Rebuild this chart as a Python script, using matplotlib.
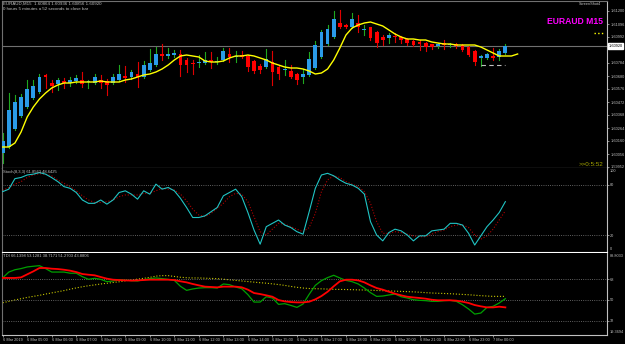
import matplotlib.pyplot as plt
from matplotlib.transforms import blended_transform_factory

plt.rcParams['font.family'] = ['Liberation Sans', 'DejaVu Sans']

# EURAUD M15 candles, one per bar (bar 0 = 6 Mar 04:00)
opens = [1.60064, 1.60112, 1.60256, 1.60360, 1.60432, 1.60504, 1.60552, 1.60688, 1.60624, 1.60616,
         1.60640, 1.60624, 1.60640, 1.60648, 1.60632, 1.60624, 1.60648, 1.60640, 1.60624, 1.60648,
         1.60680, 1.60672, 1.60696, 1.60672, 1.60728, 1.60768, 1.60856, 1.60840, 1.60848, 1.60856,
         1.60808, 1.60784, 1.60784, 1.60784, 1.60808, 1.60792, 1.60808, 1.60856, 1.60832, 1.60848,
         1.60840, 1.60800, 1.60760, 1.60752, 1.60792, 1.60752, 1.60728, 1.60720, 1.60696, 1.60672,
         1.60688, 1.60744, 1.60832, 1.60936, 1.60992, 1.61104, 1.61088, 1.61072, 1.61104, 1.61048,
         1.61072, 1.61032, 1.60992, 1.60984, 1.61000, 1.60992, 1.60976, 1.60960, 1.60952, 1.60944,
         1.60936, 1.60920, 1.60944, 1.60928, 1.60936, 1.60928, 1.60912, 1.60880, 1.60824, 1.60824,
         1.60840, 1.60832, 1.60864]
highs = [1.60224, 1.60544, 1.60528, 1.60536, 1.60648, 1.60648, 1.60696, 1.60696, 1.60648, 1.60664,
         1.60664, 1.60672, 1.60688, 1.60712, 1.60648, 1.60696, 1.60688, 1.60656, 1.60696, 1.60768,
         1.60760, 1.60728, 1.60792, 1.60800, 1.60896, 1.60912, 1.60936, 1.60904, 1.60888, 1.60888,
         1.60824, 1.60808, 1.60848, 1.60872, 1.60872, 1.60832, 1.60904, 1.60904, 1.60880, 1.60880,
         1.60848, 1.60808, 1.60776, 1.60896, 1.60880, 1.60768, 1.60808, 1.60768, 1.60704, 1.60736,
         1.60872, 1.60960, 1.61048, 1.61088, 1.61200, 1.61208, 1.61096, 1.61184, 1.61168, 1.61088,
         1.61072, 1.61040, 1.61008, 1.61024, 1.61024, 1.61000, 1.60984, 1.60968, 1.60968, 1.60952,
         1.60936, 1.60944, 1.60968, 1.60944, 1.60944, 1.60936, 1.60920, 1.60888, 1.60848, 1.60864,
         1.60904, 1.60896, 1.60936]
lows = [1.59984, 1.60104, 1.60248, 1.60352, 1.60424, 1.60496, 1.60544, 1.60584, 1.60552, 1.60568,
        1.60584, 1.60600, 1.60624, 1.60592, 1.60584, 1.60616, 1.60584, 1.60528, 1.60616, 1.60640,
        1.60632, 1.60656, 1.60592, 1.60664, 1.60720, 1.60760, 1.60808, 1.60824, 1.60832, 1.60680,
        1.60712, 1.60696, 1.60752, 1.60776, 1.60744, 1.60776, 1.60800, 1.60792, 1.60792, 1.60824,
        1.60720, 1.60704, 1.60704, 1.60744, 1.60608, 1.60656, 1.60688, 1.60664, 1.60616, 1.60624,
        1.60680, 1.60736, 1.60824, 1.60928, 1.60984, 1.61064, 1.61064, 1.61064, 1.61032, 1.61008,
        1.60968, 1.60912, 1.60928, 1.60944, 1.60952, 1.60944, 1.60928, 1.60920, 1.60888, 1.60880,
        1.60896, 1.60904, 1.60896, 1.60912, 1.60904, 1.60880, 1.60840, 1.60768, 1.60760, 1.60816,
        1.60808, 1.60808, 1.60856]
closes = [1.60160, 1.60408, 1.60472, 1.60512, 1.60576, 1.60600, 1.60672, 1.60672, 1.60600, 1.60648,
          1.60624, 1.60648, 1.60664, 1.60616, 1.60640, 1.60672, 1.60624, 1.60608, 1.60672, 1.60696,
          1.60664, 1.60712, 1.60672, 1.60768, 1.60784, 1.60856, 1.60840, 1.60856, 1.60864, 1.60768,
          1.60768, 1.60776, 1.60792, 1.60808, 1.60792, 1.60800, 1.60880, 1.60832, 1.60840, 1.60832,
          1.60752, 1.60720, 1.60728, 1.60816, 1.60712, 1.60696, 1.60736, 1.60672, 1.60648, 1.60696,
          1.60816, 1.60928, 1.61032, 1.61056, 1.61136, 1.61072, 1.61072, 1.61136, 1.61072, 1.61056,
          1.60984, 1.60944, 1.60968, 1.61008, 1.60992, 1.60968, 1.60944, 1.60928, 1.60936, 1.60912,
          1.60912, 1.60936, 1.60928, 1.60936, 1.60920, 1.60888, 1.60848, 1.60792, 1.60840, 1.60856,
          1.60824, 1.60880, 1.60920]

# shifted moving average (runs 2 bars past the last candle)
ma_values = [1.60112, 1.60112, 1.60144, 1.60232, 1.60352, 1.60432, 1.60496, 1.60544, 1.60584, 1.60608,
             1.60624, 1.60624, 1.60632, 1.60632, 1.60632, 1.60632, 1.60640, 1.60632, 1.60632, 1.60632,
             1.60648, 1.60656, 1.60672, 1.60688, 1.60696, 1.60712, 1.60736, 1.60768, 1.60808, 1.60840,
             1.60848, 1.60840, 1.60832, 1.60800, 1.60792, 1.60792, 1.60800, 1.60824, 1.60840, 1.60840,
             1.60848, 1.60840, 1.60824, 1.60808, 1.60784, 1.60768, 1.60752, 1.60744, 1.60744, 1.60736,
             1.60720, 1.60696, 1.60704, 1.60736, 1.60808, 1.60904, 1.61008, 1.61064, 1.61088, 1.61104,
             1.61112, 1.61096, 1.61080, 1.61048, 1.61016, 1.60992, 1.60976, 1.60976, 1.60968, 1.60968,
             1.60952, 1.60944, 1.60936, 1.60936, 1.60928, 1.60928, 1.60928, 1.60928, 1.60912, 1.60888,
             1.60864, 1.60840, 1.60840, 1.60840, 1.60856]

stoch_main = [72, 75, 87.6, 89, 92, 93, 94.8, 93, 88.8, 84,
              78, 76, 71, 62, 58, 58, 62, 57, 62, 71,
              73, 69, 63, 73, 69, 81, 75, 77, 73, 64,
              53, 41, 41, 43, 48, 53, 67, 71, 75, 66,
              47, 26, 9, 30, 34, 38, 32, 29, 24, 21,
              48, 76, 92, 94, 91, 86, 82, 80, 76, 69,
              36, 20, 13, 23, 27, 25, 20, 13, 19, 19,
              25, 26, 27, 34, 34, 32, 22, 8, 19, 30,
              38, 47, 60]
stoch_signal = [73.5, 77, 81, 84, 89, 92, 93.6, 93, 91, 86,
                82, 78, 73, 67, 62, 59, 59, 60, 62, 66,
                68, 68, 68, 70, 70, 73, 76, 75, 74, 69,
                61, 51, 44, 42, 46, 52, 58, 66, 70, 69,
                60, 42, 24, 20, 27, 34, 33, 30, 27, 24,
                29, 46, 72, 86, 91, 89, 84, 81, 78, 72,
                58, 36, 22, 22, 24, 23, 21, 19, 18, 18,
                21, 24, 26, 30, 32, 32, 29, 20, 15, 19,
                27, 38, 49]

tdi_rsi = [69, 74, 76, 77, 78.4, 79, 79.5, 77, 74, 74,
           74, 73, 73, 70, 67.7, 68.6, 67.7, 65.7, 66.3, 67.4,
           67, 66.6, 66.3, 67.4, 68.3, 68.9, 68.3, 67.7, 66.8, 61.7,
           58.2, 59.4, 60.2, 60.5, 60.5, 60.2, 63.7, 63.1, 61.1, 59.6,
           54.5, 48.1, 48.1, 52.7, 51.6, 46.1, 46.7, 45.2, 43.5, 46.4,
           54.8, 62.5, 66.6, 69.2, 71.2, 68.9, 66.8, 65.7, 63.7, 60.2,
           56.2, 53, 53.3, 54.2, 55, 52.7, 51.6, 50.1, 49.6, 49.3,
           48.7, 48.7, 49.3, 49.6, 48.7, 45.8, 42.1, 37.7, 38.6, 43.5,
           44.4, 47.3, 51]
tdi_signal = [68.9, 68.9, 68.9, 69.4, 72, 74.6, 77.5, 77.5, 76.9, 76.6,
              76, 75.2, 74, 72.3, 71.7, 71.2, 69.7, 68.3, 67.4, 67.1,
              66.8, 66.6, 66.8, 67.1, 67.4, 67.4, 67.4, 67.4, 67.1, 66,
              65.1, 63.7, 62.5, 61.4, 61.1, 60.8, 61.4, 61.4, 61.4, 60.8,
              58.8, 55.9, 55, 53.9, 52.7, 49.8, 48.7, 48.1, 47.8, 47.8,
              48.4, 50.4, 53.3, 57, 61.7, 66, 67.4, 67.4, 66.8, 65.1,
              62.5, 60.2, 58.8, 57, 55.3, 53.9, 52.7, 52.1, 51.6, 51,
              50.1, 49.6, 49.6, 49.6, 49.3, 48.4, 47.3, 45.5, 44.4, 43.5,
              43.5, 44.1, 43.5]
tdi_base = [47.5, 48.7, 49.9, 51, 52.1, 53, 53.9, 55, 56, 57,
            58, 59.2, 60.3, 61.3, 62.2, 62.9, 63.7, 64.3, 65, 65.6,
            66.4, 67.2, 67.9, 68.6, 69.4, 70.5, 70.9, 70.9, 70.2, 69.5,
            69.1, 68.9, 68.9, 68.7, 68.5, 68.3, 67.8, 67.3, 66.8, 66.3,
            65.8, 65.3, 64.8, 64.4, 63.8, 63.2, 62.5, 61.6, 60.8, 60.2,
            59.8, 59.6, 59.5, 59.3, 59.1, 59, 58.9, 58.8, 58.6, 58.5,
            58.3, 58.1, 57.9, 57.7, 57.5, 57.3, 57.1, 56.9, 56.6, 56.2,
            55.9, 55.7, 55.5, 55.3, 55, 54.7, 54.4, 54, 53.6, 53.3,
            53, 53, 53]

price_ticks = [1.61200, 1.61096, 1.60992, 1.60784, 1.60680, 1.60576, 1.60472,
               1.60368, 1.60264, 1.60160, 1.60056, 1.59952]
low_level = 1.60768
low_level_bars = [78, 82]
time_labels = ["6 Mar 2019"] + ["6 Mar %02d:00" % h for h in range(5, 24)] + ["7 Mar 00:00"]

W, H = 625, 344
fig = plt.figure(figsize=(W / 100, H / 100), dpi=100, facecolor='black')


def box(x0, y0, x1, y1):
    return [x0 / W, 1 - y1 / H, (x1 - x0) / W, (y1 - y0) / H]


def px_text(x, y, s, **kw):
    fig.text(x / W, 1 - y / H, s, va='center', **kw)


ax_main = fig.add_axes(box(2, 1, 607, 168))
ax_st = fig.add_axes(box(2, 168.3, 607, 251.7))
ax_tdi = fig.add_axes(box(2, 253, 607, 335))

grey = '#c0c0c0'
small = 2.8
for ax in (ax_main, ax_st, ax_tdi):
    ax.set_facecolor('black')
    ax.set_xlim(-0.11, 98.58)
    for side in ('left', 'top', 'bottom', 'right'):
        ax.spines[side].set_color('#707070')
        ax.spines[side].set_linewidth(0.8)
    ax.spines['right'].set_color(grey)
    ax.yaxis.tick_right()
    ax.tick_params(axis='y', colors=grey, labelsize=small, length=1.5, width=0.5, pad=0.8)
    ax.tick_params(axis='x', bottom=False, labelbottom=False)
ax_main.spines['bottom'].set_color('white')
ax_st.spines['top'].set_visible(False)
ax_st.spines['bottom'].set_color('white')
ax_tdi.spines['top'].set_visible(False)
ax_tdi.spines['bottom'].set_color(grey)

# ---- main price window ----
bars = list(range(len(closes)))
for i in bars:
    bull = closes[i] >= opens[i]
    wick_c = '#1fa81f' if bull else '#e00000'
    body_c = '#2b9be8' if bull else '#ff0000'
    ax_main.plot([i, i], [lows[i], highs[i]], color=wick_c, lw=0.8, zorder=2)
    h = max(abs(closes[i] - opens[i]), 0.00003)
    ax_main.bar(i, h, bottom=min(opens[i], closes[i]), width=0.62,
                color=body_c, linewidth=0, zorder=3)
ax_main.plot(range(len(ma_values)), ma_values, color='#ffff00', lw=1.0, zorder=4)
ax_main.axhline(closes[-1], color='#707070', lw=0.8, zorder=1)
ax_main.plot(low_level_bars, [low_level, low_level], color=grey, lw=0.8,
             dashes=(4, 3), zorder=4)
ax_main.set_ylim(1.59944, 1.61280)
ax_main.set_yticks(price_ticks)
ax_main.set_yticklabels(['%.5f' % p for p in price_ticks])
tr = blended_transform_factory(ax_main.transAxes, ax_main.transData)
ax_main.text(1.002, closes[-1], '%.5f' % closes[-1], transform=tr, fontsize=small,
             color='black', va='center', ha='left',
             bbox=dict(facecolor='white', edgecolor='white', pad=0.5))

px_text(3, 4, 'EURAUD,M15  1.60864 1.60936 1.60856 1.60920', color=grey, fontsize=3.2)
px_text(3, 9.5, '0 hours 5 minutes a 52 seconds to close bar', color=grey, fontsize=3.2)
px_text(601, 4, 'ScreenShot4', color=grey, fontsize=2.8, ha='right')
px_text(603, 21, 'EURAUD M15', color='#ff00ff', fontsize=6.2, fontweight='bold', ha='right')
fig.add_artist(plt.Line2D([594 / W, 603 / W], [1 - 33 / H, 1 - 33 / H],
                          color='#ffff00', lw=1, ls=':'))
px_text(603, 164, '>>0:5:52', color='#a8a800', fontsize=4.5, ha='right')

# ---- stochastic window ----
ax_st.plot(bars, stoch_main, color='#20c4c4', lw=0.8, zorder=3)
ax_st.plot(bars, stoch_signal, color='#b00000', lw=0.8, ls=':', zorder=2)
for lv in (80, 20):
    ax_st.axhline(lv, color='#808080', lw=0.6, ls=':')
ax_st.set_ylim(0, 100)
ax_st.set_yticks([80, 20])
ax_st.set_yticklabels(['80', '20'])
tr = blended_transform_factory(ax_st.transAxes, ax_st.transData)
ax_st.text(1.005, 99, '100', transform=tr, fontsize=small, color=grey, va='top')
ax_st.text(1.005, 1, '0', transform=tr, fontsize=small, color=grey, va='bottom')
px_text(3, 172, 'Stoch(8,3,3) 61.8563 48.6425', color=grey, fontsize=3)

# ---- TDI window ----
ax_tdi.plot(bars, tdi_base, color='#c8c800', lw=0.8, ls=':', zorder=2)
ax_tdi.plot(bars, tdi_rsi, color='#00a000', lw=0.9, zorder=3)
ax_tdi.plot(bars, tdi_signal, color='#ff0000', lw=1.3, zorder=4)
for lv in (68, 50, 32):
    ax_tdi.axhline(lv, color='#808080', lw=0.6, ls=':')
ax_tdi.set_ylim(19.65, 90.45)
ax_tdi.set_yticks([68, 50, 32])
ax_tdi.set_yticklabels(['68', '50', '32'])
tr = blended_transform_factory(ax_tdi.transAxes, ax_tdi.transData)
ax_tdi.text(1.005, 90, '89.8033', transform=tr, fontsize=small, color=grey, va='top')
ax_tdi.text(1.005, 20.2, '19.3694', transform=tr, fontsize=small, color=grey, va='bottom')
px_text(3, 256, 'TDI 66.1398 53.1281 38.7171 51.2703 43.8806', color=grey, fontsize=3)

ax_tdi.set_xticks(range(0, 4 * len(time_labels), 4))
ax_tdi.set_xticklabels(time_labels)
ax_tdi.tick_params(axis='x', bottom=True, labelbottom=True, colors=grey,
                   labelsize=small, length=1.5, width=0.5, pad=1)
for lab in ax_tdi.get_xticklabels():
    lab.set_ha('left')

fig.savefig('out.png', dpi=100, facecolor='black')
